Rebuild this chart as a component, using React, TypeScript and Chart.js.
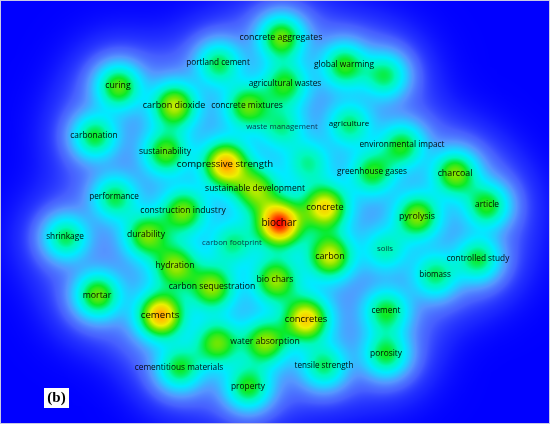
import React, { useEffect, useRef } from 'react';
import { Chart, registerables } from 'chart.js';

Chart.register(...registerables);

// VOSviewer-like keyword map (map units)
const keywords = [
  'concrete aggregates', 'portland cement', 'global warming', 'agricultural wastes', 'curing',
  'carbon dioxide', 'concrete mixtures', 'waste management', 'agriculture', 'carbonation',
  'environmental impact', 'sustainability', 'compressive strength', 'greenhouse gases', 'charcoal',
  'performance', 'sustainable development', 'concrete', 'biochar', 'construction industry',
  'pyrolysis', 'article', 'shrinkage', 'durability', 'carbon footprint',
  'carbon', 'soils', 'controlled study', 'biomass', 'hydration',
  'bio chars', 'carbon sequestration', 'mortar', 'cements', 'concretes',
  'cement', 'water absorption', 'porosity', 'tensile strength', 'cementitious materials',
  'property', '', '', '',
];
const xs = [
  0.06, -0.57, 0.69, 0.10, -1.57,
  -1.01, -0.28, 0.07, 0.74, -1.81,
  1.27, -1.10, -0.50, 0.97, 1.80,
  -1.61, -0.20, 0.50, 0.04, -0.92,
  1.42, 2.12, -2.10, -1.29, -0.43,
  0.55, 1.10, 2.03, 1.60, -1.00,
  0.00, -0.63, -1.78, -1.15, 0.31,
  1.11, -0.10, 1.11, 0.49, -0.96,
  -0.27, 1.10, 0.33, -0.58,
];
const ys = [
  1.75, 1.49, 1.47, 1.28, 1.26,
  1.07, 1.06, 0.85, 0.88, 0.76,
  0.67, 0.60, 0.48, 0.40, 0.39,
  0.15, 0.23, 0.05, -0.11, 0.01,
  -0.04, 0.07, -0.25, -0.23, -0.31,
  -0.44, -0.37, -0.47, -0.63, -0.54,
  -0.68, -0.75, -0.83, -1.03, -1.07,
  -0.99, -1.30, -1.42, -1.54, -1.56,
  -1.75, 1.37, 0.50, -1.31,
];
const weights = [
  0.54, 0.40, 0.46, 0.42, 0.52,
  0.60, 0.48, 0.30, 0.36, 0.44,
  0.43, 0.48, 0.76, 0.42, 0.54,
  0.40, 0.48, 0.66, 0.90, 0.50,
  0.54, 0.46, 0.42, 0.50, 0.30,
  0.60, 0.30, 0.42, 0.38, 0.50,
  0.52, 0.52, 0.54, 0.78, 0.70,
  0.43, 0.52, 0.44, 0.38, 0.42,
  0.45, 0.40, 0.30, 0.48,
];

const X_MIN = -2.75, X_MAX = 2.75, Y_MIN = -2.12, Y_MAX = 2.12;

const STOPS: [number, number, number, number][] = [
  [0.0, 0, 0, 255],
  [0.015, 25, 35, 255],
  [0.05, 70, 95, 255],
  [0.11, 85, 150, 255],
  [0.18, 40, 200, 255],
  [0.25, 0, 235, 255],
  [0.36, 0, 248, 190],
  [0.47, 10, 235, 40],
  [0.58, 120, 230, 0],
  [0.69, 235, 240, 0],
  [0.8, 255, 195, 0],
  [0.9, 255, 110, 0],
  [1.0, 255, 10, 0],
];

function colorAt(t: number): [number, number, number] {
  if (t <= 0) return [0, 0, 255];
  if (t >= 1) return [255, 10, 0];
  for (let i = 1; i < STOPS.length; i++) {
    if (t <= STOPS[i][0]) {
      const a = STOPS[i - 1], b = STOPS[i];
      const f = (t - a[0]) / (b[0] - a[0]);
      return [a[1] + (b[1] - a[1]) * f, a[2] + (b[2] - a[2]) * f, a[3] + (b[3] - a[3]) * f];
    }
  }
  return [255, 10, 0];
}

const densityPlugin = {
  id: 'density',
  beforeDatasetsDraw(chart: any) {
    const { ctx, chartArea, scales } = chart;
    const xS = scales.x, yS = scales.y;
    const left = Math.round(chartArea.left), top = Math.round(chartArea.top);
    const W = Math.round(chartArea.right - chartArea.left);
    const H = Math.round(chartArea.bottom - chartArea.top);
    const pts = xs.map((x, i) => ({
      px: xS.getPixelForValue(x) - left,
      py: yS.getPixelForValue(ys[i]) - top,
      w: weights[i],
    }));
    const unit = Math.abs(xS.getPixelForValue(1) - xS.getPixelForValue(0));
    const s1 = 0.15 * unit, s2 = 0.32 * unit;
    const inv1 = 1 / (2 * s1 * s1), inv2 = 1 / (2 * s2 * s2);
    const cut = (s2 * 3.5) ** 2;
    const off = document.createElement('canvas');
    off.width = W; off.height = H;
    const octx = off.getContext('2d')!;
    const img = octx.createImageData(W, H);
    const d = img.data;
    for (let y = 0; y < H; y++) {
      for (let x = 0; x < W; x++) {
        let s = 0;
        for (let k = 0; k < pts.length; k++) {
          const dx = x - pts[k].px, dy = y - pts[k].py;
          const r2 = dx * dx + dy * dy;
          if (r2 < cut) s += pts[k].w * (0.88 * Math.exp(-r2 * inv1) + 0.12 * Math.exp(-r2 * inv2));
        }
        const c = colorAt(s);
        const o = (y * W + x) * 4;
        d[o] = c[0]; d[o + 1] = c[1]; d[o + 2] = c[2]; d[o + 3] = 255;
      }
    }
    octx.putImageData(img, 0, 0);
    ctx.save();
    ctx.drawImage(off, left, top);
    ctx.restore();
  },
  afterDatasetsDraw(chart: any) {
    const { ctx, scales } = chart;
    const xS = scales.x, yS = scales.y;
    ctx.save();
    ctx.textAlign = 'center';
    ctx.textBaseline = 'middle';
    keywords.forEach((k, i) => {
      if (!k) return;
      const size = 6.6 + 4 * Math.min(weights[i], 0.85);
      ctx.font = `${size.toFixed(1)}px "Open Sans", sans-serif`;
      ctx.fillStyle = weights[i] < 0.36 ? 'rgba(10,25,50,0.85)' : 'rgba(0,0,0,0.95)';
      ctx.fillText(k, xS.getPixelForValue(xs[i]), yS.getPixelForValue(ys[i]));
    });
    ctx.restore();
  },
  afterDraw(chart: any) {
    const { ctx, chartArea } = chart;
    ctx.save();
    // panel label
    const bx = chartArea.left + 44, by = chartArea.bottom - 36;
    ctx.fillStyle = '#ffffff';
    ctx.fillRect(bx, by, 25, 20);
    ctx.fillStyle = '#000';
    ctx.font = 'bold 15px "Liberation Serif", serif';
    ctx.textAlign = 'center';
    ctx.textBaseline = 'middle';
    ctx.fillText('(b)', bx + 12.5, by + 10.5);
    // frame
    ctx.strokeStyle = '#c8c8e6';
    ctx.lineWidth = 1;
    ctx.strokeRect(chartArea.left + 0.5, chartArea.top + 0.5, chartArea.right - chartArea.left - 1, chartArea.bottom - chartArea.top - 1);
    ctx.restore();
  },
};

export default function App() {
  const ref = useRef<HTMLCanvasElement>(null);
  useEffect(() => {
    if (!ref.current) return;
    const chart = new Chart(ref.current, {
      type: 'scatter',
      data: {
        datasets: [
          {
            label: 'keywords',
            data: xs.map((x, i) => ({ x, y: ys[i] })),
            pointRadius: 0,
            pointHoverRadius: 0,
          },
        ],
      },
      options: {
        animation: false,
        responsive: false,
        maintainAspectRatio: false,
        devicePixelRatio: 1,
        layout: { padding: 0 },
        events: [],
        plugins: { legend: { display: false }, tooltip: { enabled: false } },
        scales: {
          x: { type: 'linear', min: X_MIN, max: X_MAX, display: false },
          y: { type: 'linear', min: Y_MIN, max: Y_MAX, display: false },
        },
      },
      plugins: [densityPlugin],
    });
    return () => chart.destroy();
  }, []);
  return (
    <div style={{ position: 'absolute', left: 0, top: 0, width: 550, height: 424 }}>
      <canvas ref={ref} width={550} height={424} style={{ display: 'block', width: 550, height: 424 }} />
    </div>
  );
}
